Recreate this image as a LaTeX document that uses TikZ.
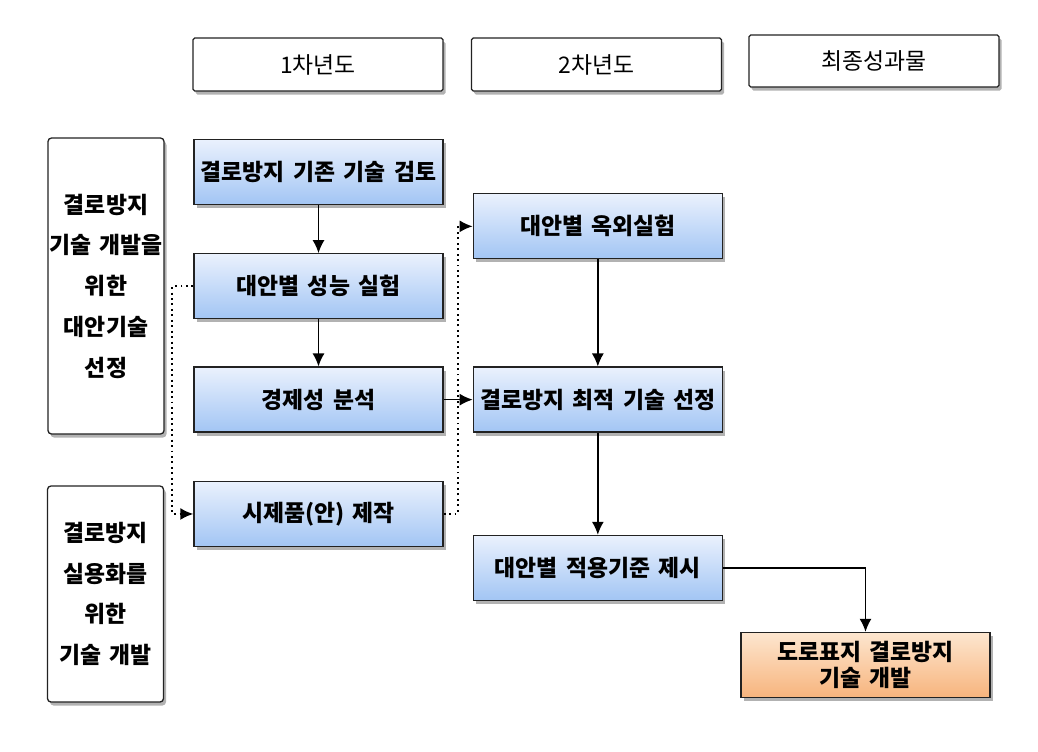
\documentclass[tikz,border=0pt]{standalone}
\usepackage{fontspec}
\newfontfamily\kr[WordSpace=1.6]{Noto Sans CJK KR}
\usetikzlibrary{arrows.meta,positioning,shadows}
\definecolor{edge}{HTML}{222222}
\definecolor{bluetop}{HTML}{EAF1FD}
\definecolor{bluebot}{HTML}{A2C5F4}
\definecolor{orgtop}{HTML}{FDE6CF}
\definecolor{orgbot}{HTML}{F7B47D}
\tikzset{
  >={Latex[length=2.6mm,width=2.4mm]},
  shd/.style={drop shadow={shadow xshift=0.5mm,shadow yshift=-0.7mm,fill=black,opacity=0.3}},
  hdr/.style={draw=edge,rounded corners=1pt,line width=0.75pt,fill=white,shd,minimum width=50mm,minimum height=10.6mm,inner sep=0pt,font=\kr\fontsize{13}{15}\selectfont},
  side/.style={draw=edge,rounded corners=2pt,line width=0.75pt,fill=white,shd,minimum width=23.2mm,align=center,inner sep=0pt,font=\kr\bfseries\fontsize{13}{23.2}\selectfont},
  stage/.style={draw=edge,line width=0.75pt,top color=bluetop,bottom color=bluebot,shd,minimum width=49.8mm,minimum height=13mm,inner sep=0pt,font=\kr\bfseries\fontsize{13}{15}\selectfont},
  goal/.style={stage,top color=orgtop,bottom color=orgbot,align=center,font=\kr\bfseries\fontsize{13}{14.7}\selectfont},
  arr/.style={->,draw=black,line width=0.9pt},
  darr/.style={->,draw=black,line width=1.1pt,dotted},
}
\begin{document}
\begin{tikzpicture}[x=0.2mm,y=-0.2mm]
\useasboundingbox (0,0) rectangle (1038,751);
% column headers
\node[hdr] (yr1) at (318,64.5) {1차년도};
\node[hdr] (yr2) at (596.5,64.5) {2차년도};
\node[hdr,minimum height=10.4mm] (final) at (874,61) {최종성과물};
% goals on the left
\node[side,minimum height=59.2mm] (aim1) at (106,286) {결로방지\\기술 개발을\\위한\\대안기술\\선정};
\node[side,minimum height=43.2mm] (aim2) at (105.5,594) {결로방지\\실용화를\\위한\\기술 개발};
% first year
\node[stage] (review) at (318.5,172) {결로방지 기존 기술 검토};
\node[stage,below=9.6mm of review] (perf) {대안별 성능 실험};
\node[stage,below=9.4mm of perf] (econ) {경제성 분석};
\node[stage,below=9.6mm of econ] (proto) {시제품(안) 제작};
% second year
\node[stage,right=5.8mm of econ] (opt) {결로방지 최적 기술 선정};
\node[stage,above=21.4mm of opt] (field) {대안별 옥외실험};
\node[stage,below=20.4mm of opt] (std) {대안별 적용기준 제시};
% final result
\node[goal] (result) at (865.5,665) {도로표지 결로방지\\기술 개발};
\draw[arr] (review) -- (perf);
\draw[arr] (perf) -- (econ);
\draw[arr] (econ) -- (opt);
\draw[arr] (field) -- (opt);
\draw[arr] (opt) -- (std);
\draw[arr] (std.east) -| (result.north);
\draw[darr] (perf.west) -- ++(-4.2mm,0) |- (proto.west);
\draw[darr] (proto.east) -- ++(2.8mm,0) |- (field.west);
\end{tikzpicture}
\end{document}
